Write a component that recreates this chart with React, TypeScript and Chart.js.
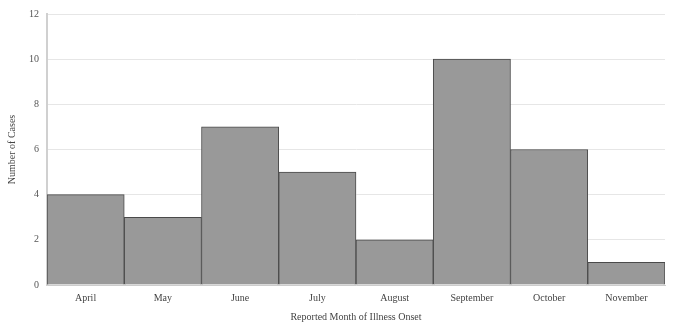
import React, { useEffect, useRef } from "react";
import { Chart, registerables } from "chart.js";

Chart.register(...registerables);

const months = ["April", "May", "June", "July", "August", "September", "October", "November"];
const cases = [4, 3, 7, 5, 2, 10, 6, 1];
const yTicks = [0, 2, 4, 6, 8, 10, 12];

export default function App() {
  const ref = useRef<HTMLCanvasElement>(null);
  useEffect(() => {
    if (!ref.current) return;
    const font = { family: "'Liberation Serif', 'Times New Roman', serif", size: 10 };
    const chart = new Chart(ref.current, {
      type: "bar",
      data: {
        labels: months,
        datasets: [
          {
            data: cases,
            backgroundColor: "#999999",
            borderColor: "#4a4a4a",
            borderWidth: 1,
            categoryPercentage: 1,
            barPercentage: 1,
          },
        ],
      },
      options: {
        animation: false,
        responsive: false,
        maintainAspectRatio: false,
        layout: { padding: { left: 6, right: 10, top: 14, bottom: 6 } },
        plugins: { legend: { display: false }, tooltip: { enabled: false } },
        scales: {
          x: {
            grid: { display: false, drawTicks: false },
            border: { display: true, color: "#cccccc" },
            ticks: { font, color: "#444", padding: 7 },
            title: { display: true, text: "Reported Month of Illness Onset", font, color: "#444", padding: { top: 2, bottom: 3 } },
            afterFit: (s: any) => { s.height = 332 - 285 - 6; },
          },
          y: {
            min: 0,
            max: 12,
            afterBuildTicks: (s: any) => { s.ticks = yTicks.map((v) => ({ value: v })); },
            grid: { color: "#e6e6e6", drawTicks: false },
            border: { display: true, color: "#d0d0d0", width: 2 },
            ticks: { font, color: "#555", padding: 8 },
            title: { display: true, text: "Number of Cases", font, color: "#444", padding: { top: 0, bottom: 4 } },
            afterFit: (s: any) => { s.width = 47 - 6; },
          },
        },
      },
    });
    return () => chart.destroy();
  }, []);
  return (
    <div style={{ position: "fixed", left: 0, top: 0, width: 675, height: 332, background: "#fff" }}>
      <canvas ref={ref} width={675} height={332} style={{ width: 675, height: 332 }} />
    </div>
  );
}
